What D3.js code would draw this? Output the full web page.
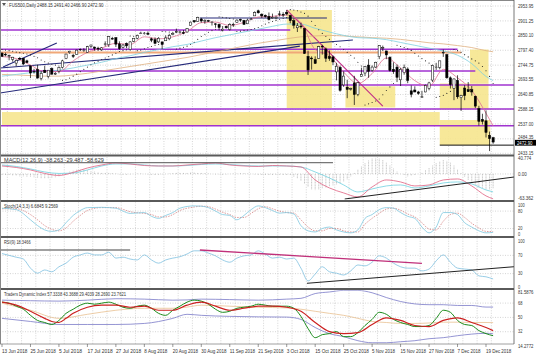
<!DOCTYPE html>
<html><head><meta charset="utf-8">
<script src="https://cdn.jsdelivr.net/npm/d3@7"></script>
<style>
body{margin:0;background:#fff;}
svg text{font-family:"Liberation Sans","DejaVu Sans",Arial,sans-serif;font-size:5px;fill:#333;}
</style></head>
<body><svg id="c" width="536" height="358"></svg>
<script>
// ---------- DATA ----------
const dateLabels = ["13 Jun 2018","25 Jun 2018","5 Jul 2018","17 Jul 2018","27 Jul 2018","8 Aug 2018","20 Aug 2018","30 Aug 2018","11 Sep 2018","21 Sep 2018","3 Oct 2018","15 Oct 2018","25 Oct 2018","5 Nov 2018","15 Nov 2018","27 Nov 2018","7 Dec 2018","19 Dec 2018"];
const dateLabelBars = [0,8,16,24,32,40,48,56,64,72,80,88,96,104,112,120,128,136];

const open = [2787,2783,2777,2765,2752,2769,2769,2760,2742,2722, 2729,2698,2727,2705,2733,2713,2724,2737,2768,2789, 2779,2783,2801,2798,2790,2811,2809,2805,2799,2820, 2817,2839,2842,2820,2808,2822,2800,2829,2840,2856, 2857,2858,2838,2835,2827,2827,2831,2838,2853,2861, 2861,2860,2862,2885,2902,2900,2908,2899,2902,2897, 2891,2889,2868,2882,2871,2888,2896,2906,2903,2891, 2906,2919,2937,2925,2921,2917,2911,2910,2926,2924, 2932,2920,2902,2877,2883,2874,2776,2770,2764,2768, 2812,2802,2775,2774,2721,2737,2675,2667,2660,2682, 2641,2705,2717,2745,2726,2738,2775,2807,2795,2773, 2730,2738,2693,2718,2731,2654,2657,2650,2633,2650, 2663,2692,2737,2737,2790,2782,2700,2663,2691,2630, 2664,2658,2658,2635,2591,2553,2548,2497,2488.15];
const high = [2791,2789,2782,2774,2765,2774,2770,2764,2743,2732, 2746,2724,2743,2727,2737,2720,2738,2764,2785,2796, 2785,2800,2804,2805,2813,2817,2810,2810,2809,2829, 2848,2845,2843,2829,2819,2825,2830,2841,2853,2863, 2862,2864,2842,2843,2844,2828,2850,2856,2859,2874, 2867,2869,2876,2899,2904,2916,2912,2907,2905,2900, 2893,2892,2883,2884,2893,2895,2907,2909,2905,2909, 2912,2935,2941,2928,2924,2931,2927,2920,2937,2932, 2940,2923,2910,2894,2895,2875,2796,2776,2776,2813, 2817,2807,2797,2779,2753,2743,2723,2693,2665,2707, 2685,2736,2741,2766,2744,2757,2815,2814,2796,2776, 2755,2747,2735,2747,2737,2673,2670,2654,2654,2676, 2686,2744,2753,2760,2800,2785,2705,2698,2709,2640, 2674,2685,2671,2637,2601,2573,2585,2510,2491.4];
const low = [2774,2776,2762,2757,2741,2763,2745,2752,2699,2715, 2698,2691,2718,2698,2711,2710,2716,2733,2766,2785, 2770,2782,2795,2792,2789,2806,2796,2795,2795,2811, 2809,2835,2809,2799,2804,2805,2796,2826,2836,2855, 2853,2852,2826,2819,2823,2802,2831,2833,2851,2858, 2856,2854,2860,2884,2894,2899,2895,2891,2898,2885, 2877,2868,2864,2874,2867,2880,2895,2898,2887,2890, 2904,2919,2927,2912,2913,2903,2910,2907,2917,2915, 2921,2893,2874,2862,2874,2785,2710,2729,2749,2767, 2782,2756,2760,2745,2691,2651,2668,2628,2655,2604, 2635,2705,2706,2700,2722,2735,2766,2795,2766,2722, 2714,2685,2671,2711,2681,2631,2649,2640,2631,2649, 2656,2685,2728,2730,2774,2697,2662,2621,2626,2583, 2621,2650,2637,2593,2531,2535,2489,2441,2466.9];
const close = [2776,2782,2779,2773,2762,2767,2749,2754,2717,2723, 2699,2716,2718,2727,2713,2716,2737,2760,2784,2794, 2776,2798,2801,2798,2810,2816,2804,2802,2806,2820, 2846,2837,2819,2803,2816,2813,2827,2840,2850,2858, 2858,2854,2833,2822,2840,2818,2841,2850,2857,2863, 2862,2857,2875,2897,2898,2914,2901,2902,2901,2897, 2889,2878,2872,2877,2888,2889,2904,2905,2889,2904, 2908,2931,2930,2919,2916,2906,2914,2914,2925,2923, 2926,2902,2886,2884,2880,2786,2728,2767,2751,2810, 2809,2769,2768,2756,2741,2656,2706,2659,2662,2641, 2683,2712,2740,2723,2738,2755,2814,2807,2781,2726, 2722,2702,2730,2736,2691,2642,2650,2645,2633,2673, 2682,2744,2738,2760,2790,2700,2676,2696,2633,2638, 2637,2651,2650,2600,2546,2546,2507,2485,2472.9];
// parabolic SAR, one value per bar
const sar = [2800,2798,2796,2794,2791,2789,2787,2784,2781,2776, 2771,2763,2757,2752,2748,2745,2742,2691,2693,2699, 2706,2713,2722,2730,2738,2746,2753,2759,2765,2770, 2775,2781,2787,2793,2796,2799,2848,2847,2796,2798, 2803,2807,2811,2815,2818,2864,2863,2862,2861,2802, 2805,2808,2812,2818,2826,2836,2846,2854,2861,2867, 2872,2916,2914,2912,2910,2908,2864,2865,2867,2869, 2871,2874,2878,2884,2890,2895,2899,2903,2907,2910, 2913,2941,2940,2937,2933,2928,2918,2900,2885,2870, 2857,2846,2836,2827,2818,2810,2800,2790,2780,2770, 2755,2742,2604,2608,2613,2618,2625,2640,2655,2668, 2680,2815,2811,2807,2803,2797,2787,2777,2768,2760, 2752,2745,2631,2634,2638,2645,2652,2800,2796,2790, 2782,2774,2767,2760,2752,2740,2725,2705,2680];

// moving averages on price, sampled every 4 bars (+ last bar)
const maFast = [2775,2768,2745,2722,2722,2760,2790,2805,2822,2818,2845,2838,2845,2864,2895,2897,2885,2896,2915,2917,2922,2895,2800,2778,2720,2680,2715,2770,2735,2690,2670,2730,2700,2655,2575,2530];
const maMid  = [2706,2712,2718,2722,2727,2735,2745,2755,2768,2778,2790,2800,2810,2818,2830,2842,2852,2862,2872,2882,2890,2890,2875,2862,2850,2842,2840,2835,2825,2815,2805,2795,2780,2750,2705,2690];
const maSlow = [2712,2710,2708,2706,2706,2710,2716,2724,2732,2740,2748,2756,2764,2772,2782,2792,2802,2812,2822,2830,2838,2845,2848,2850,2848,2845,2842,2840,2836,2830,2824,2820,2814,2807,2796,2792];

// MACD panel (every 4 bars + last)
const macdMain   = [20.8,16.9,10.4,1.3,-3.9,3.9,15.6,23.4,28.6,26,22,20.8,20.8,23.4,26,28.6,23.4,20.8,19.5,22,20.8,18.2,-15.6,-36.4,-49.4,-59.7,-33.8,-15.6,-20.8,-31.2,-28.6,-15.6,-13,-31.2,-57.1,-64.9];
const macdSignal = [23.4,19.5,13,5.2,1.3,2.6,10.4,20.8,26,26,23.4,20.8,20.8,22,24.7,26,24.7,22,20.8,20.8,20.8,18.2,5.2,-10.4,-28.6,-46.8,-39,-31.2,-28.6,-36.4,-31.2,-23.4,-20.8,-26,-41.6,-46.8];
// MACD histogram, one value per bar
const macdHist = [-3,-4,-4,-5,-5,-6,-6,-7,-8,-9, -10,-11,-12,-11,-10,-9,-6,-2,3,6, 9,11,12,11,10,8,6,5,4,4, 3,2,1,-1,-2,-2,-1,0,1,1, 0,-1,-2,-3,-2,-1,0,1,2,3, 3,4,4,5,5,4,3,2,1,0, -1,-1,-2,-1,0,1,1,2,2,1, 0,-1,-2,-3,-3,-4,-3,-2,-2,-3, -3,-4,-8,-12,-18,-26,-34,-40,-42,-40, -38,-35,-33,-30,-27,-24,-20,-14,-6,4, 12,20,28,35,40,42,40,36,30,22, 14,6,0,-4,-6,-5,-3,0,4,10, 16,22,28,33,36,34,30,22,12,2, -8,-16,-24,-30,-35,-38,-40,-40,-38];

// Stochastic
const stochIdx = [0,4,8,10,12,14,16,18,20,22,24,28,32,34,36,40,42,44,46,48,50,54,56,58,60,62,64,66,68,70,72,74,76,78,80,82,84,86,88,90,92,94,96,98,100,102,104,106,108,110,112,114,116,118,120,122,124,126,128,130,132,134,136,138];
const stochK = [90,85,50,30,15,10,15,40,65,82,92,93,90,80,72,75,62,55,65,75,90,98,97,92,80,68,65,50,65,85,98,92,82,73,75,70,30,12,8,20,25,15,8,5,15,55,68,85,92,90,75,62,55,25,5,25,75,75,68,40,25,12,5,6.7];
const stochD = [88,88,68,50,30,17,12,22,45,65,82,92,92,86,78,72,68,60,60,68,82,94,97,95,87,76,68,58,58,72,88,95,88,80,75,73,50,25,12,12,20,20,12,8,8,35,55,72,87,90,83,70,60,40,18,15,45,68,73,58,38,22,10,9.3];

// RSI(9)
const rsiIdx = [0,4,6,8,10,12,14,16,18,20,22,24,26,28,30,32,34,36,38,40,42,44,46,48,50,52,54,56,58,60,62,64,66,68,70,72,74,76,78,80,82,84,86,88,90,92,94,96,98,100,102,104,106,108,110,112,114,116,118,120,122,124,126,128,130,132,134,136,138];
const rsiVal = [74,66,62,42,31,38,34,45,53,66,71,75,71,71,77,64,66,62,60,71,60,53,60,64,67,73,80,80,75,69,60,55,64,69,71,80,73,64,66,62,64,42,14,29,45,34,31,27,36,49,47,55,69,64,53,45,42,42,36,40,58,71,55,42,40,38,25,23,18.3];

// Traders Dynamic Index
const tdiBandIdx = [0,8,16,24,32,40,48,52,56,64,72,80,84,88,92,96,100,104,108,112,116,120,124,128,132,136,138];
const tdiUpper = [71.7,71,70.5,71.7,73.5,73,71.7,72,73,72.4,71.7,73,74,80,82,84,84,81,75,70,67,66,66,65,65,63,63];
const tdiMiddle= [67.9,59,48.8,53.9,59,61.5,61.5,63,65.4,64.1,62.8,61.9,60.3,57.7,55.1,52.6,48.8,44.9,43.6,42.4,42.4,43,44,44,43.6,43.6,43.4];
const tdiLower = [48.8,44.9,41.1,41.1,41.1,42.4,48.8,53.9,52.6,51.3,50.7,50.4,47.5,37.3,29.6,25.8,20.7,18.1,18.1,19.4,20.7,23.2,24.5,27,29,30,29.4];
const tdiGreen = [69.2,67.9,64.1,60.3,52.6,46.2,43.6,41.1,46.2,55.1,60.3,65.4,67.9,66.6,67.9,69.2,66.6,62.8,61.5,64.1,65.4,61.5,55.1,52.6,59,64.1,69.2,71.7,70.5,66.6,60.3,56.4,57.7,61.5,62.8,64.1,66.6,65.4,64.1,64.1,64.1,61.5,51.3,36,24.5,28.3,29.6,32.2,25.8,25.8,30.9,39.8,47.5,56.4,53.9,47.5,43.6,41.1,38.5,38.5,39.8,48.8,59,56.4,46.2,41.1,39.8,33.4,29.6,27];
const tdiRedIdx = [0,4,8,12,14,16,18,20,24,28,32,36,40,44,48,52,56,60,64,68,72,76,80,84,88,92,96,100,104,108,112,116,120,124,128,132,136,138];
const tdiRed = [69.2,65.4,57.7,48.8,44.9,43.6,48.8,55.1,62.8,65.4,65.4,62.8,64.1,59,59,65.4,69.2,64.1,59,61.5,64.1,64.1,62.8,57.7,43.6,32.2,29.6,30.9,41.1,49.4,46.2,39.8,38.5,46.2,49.4,43.6,37.3,33.4];

// chart objects (price levels, bar ranges)
const levelPrices = [2869,2800.8,2724.1,2674.6,2589.7,2530.7];
const levelFrom   = [0,0,0,0,0,0];
const levelTo     = [81,128,133,145,145,145];
const orangeLevel = [2789.5,0,129];
const boxes = [ // [barFrom, barTo, priceTop, priceBottom]
  [80,92.7,2939.8,2593.3],
  [0,123,2579,2533],
  [123,137.2,2550.8,2462],
  [96.5,110.5,2670,2595],
  [123,136.7,2680,2589],
  [131.5,136.7,2800,2680]
];
// trend lines [bar1, price1, bar2, price2]
const navyLines = [[-0.6,2734.7,98.6,2833.7],[-0.6,2646.3,83.7,2811.8],[0.3,2738.3,15.4,2823.1],[55.6,2911.5,91.3,2911.5]];
const magentaLine = [80,2940,107,2600];
const mainTicks = [2953.95,2901.25,2850.10,2797.40,2744.75,2693.55,2640.85,2588.15,2537.00,2484.35,2433.15];
const lastPrice = 2472.90;

// ---------- RENDER ----------
const svg = d3.select('#c');
const PX = 514;
const CW = 2.3;
const x = d3.scaleLinear().domain([0,136]).range([2,486]);
const yMain = d3.scaleLinear().domain([2433.15,2953.95]).range([153.3,6]);
const yMacd = d3.scaleLinear().domain([-63.362,40.774]).range([198.3,158.3]);
const ySt = d3.scaleLinear().domain([0,100]).range([234.3,205.3]);
const yRsi = d3.scaleLinear().domain([0,100]).range([287.3,241.7]);
const yTdi = d3.scaleLinear().domain([14.2772,81.5876]).range([345.8,292.3]);

function txt(xp, yp, s, cw){
  const t = svg.append('text').attr('x',xp).attr('y',yp).text(s);
  t.attr('textLength', s.length*(cw||CW)).attr('lengthAdjust','spacingAndGlyphs');
  return t;
}

const panels = [
  {id:'pm', y0:1, y1:154.5},
  {id:'pmacd', y0:156.8, y1:199.8},
  {id:'pst', y0:202.2, y1:235.8},
  {id:'prsi', y0:238.3, y1:287.8},
  {id:'ptdi', y0:290.3, y1:344}
];
const defs = svg.append('defs');
panels.forEach(p=>{
  defs.append('clipPath').attr('id',p.id).append('rect')
    .attr('x',0).attr('y',p.y0).attr('width',PX).attr('height',p.y1-p.y0);
});
const G = {};
panels.forEach(p=>{ G[p.id] = svg.append('g').attr('clip-path',`url(#${p.id})`); });

// grid
const gridBars = d3.range(1.5,140,4);
panels.forEach(p=>{
  G[p.id].selectAll('line.vg').data(gridBars).join('line')
    .attr('x1',d=>x(d)).attr('x2',d=>x(d)).attr('y1',p.y0).attr('y2',p.y1)
    .attr('stroke','#b8b8b8').attr('stroke-width',0.6).attr('stroke-dasharray','1,1.5');
});
function hgrid(g, ys){
  g.selectAll(null).data(ys).join('line').attr('x1',0).attr('x2',PX)
   .attr('y1',d=>d).attr('y2',d=>d).attr('stroke','#b8b8b8').attr('stroke-width',0.6).attr('stroke-dasharray','1,1.5');
}
hgrid(G.pm, mainTicks.map(yMain));
hgrid(G.pmacd,[yMacd(0)]);
hgrid(G.pst,[ySt(80),ySt(20)]);
hgrid(G.prsi,[yRsi(70),yRsi(30)]);
hgrid(G.ptdi,[yTdi(68),yTdi(50),yTdi(32)]);

// yellow boxes
G.pm.selectAll('rect.box').data(boxes).join('rect')
  .attr('x',d=>x(d[0])).attr('width',d=>x(d[1])-x(d[0]))
  .attr('y',d=>yMain(d[2])).attr('height',d=>yMain(d[3])-yMain(d[2]))
  .attr('fill','#f6e68e').attr('opacity',0.9);

// horizontal levels
G.pm.selectAll('line.lvl').data(levelPrices).join('line')
  .attr('x1',(d,i)=>x(levelFrom[i])-3).attr('x2',(d,i)=>Math.min(PX,x(levelTo[i])))
  .attr('y1',d=>yMain(d)).attr('y2',d=>yMain(d))
  .attr('stroke','#a033d0').attr('stroke-width',1.6);
G.pm.append('line').attr('x1',0).attr('x2',x(orangeLevel[2]))
  .attr('y1',yMain(orangeLevel[0])).attr('y2',yMain(orangeLevel[0]))
  .attr('stroke','#f0a878').attr('stroke-width',1.8);
G.pm.append('line').attr('x1',x(123)).attr('x2',PX)
  .attr('y1',yMain(2462)).attr('y2',yMain(2462)).attr('stroke','#111').attr('stroke-width',1);

// trend lines
G.pm.selectAll('line.nv').data(navyLines).join('line')
  .attr('x1',d=>x(d[0])).attr('y1',d=>yMain(d[1])).attr('x2',d=>x(d[2])).attr('y2',d=>yMain(d[3]))
  .attr('stroke','#262a7a').attr('stroke-width',1.2);
G.pm.append('line').attr('x1',x(magentaLine[0])).attr('y1',yMain(magentaLine[1]))
  .attr('x2',x(magentaLine[2])).attr('y2',yMain(magentaLine[3]))
  .attr('stroke','#c02a86').attr('stroke-width',1.1);

// MAs
const idx4 = d3.range(0,137,4).concat([138]);
function pline(g, idx, vals, ys, color, w, dash){
  const ln = d3.line().x((d,i)=>x(idx[i])).y(d=>ys(d)).curve(d3.curveMonotoneX);
  const p = g.append('path').attr('d',ln(vals)).attr('fill','none').attr('stroke',color).attr('stroke-width',w);
  if(dash) p.attr('stroke-dasharray',dash);
  return p;
}
pline(G.pm, idx4, maSlow, yMain, '#e0b080', 0.8);
pline(G.pm, idx4, maMid, yMain, '#7fd0e0', 0.8);
pline(G.pm, idx4, maFast, yMain, '#e07090', 0.8);

// SAR dots
const bars = d3.range(open.length);
G.pm.selectAll('circle.sar').data(bars).join('circle')
  .attr('cx',i=>x(i)).attr('cy',i=>yMain(sar[i])).attr('r',0.55).attr('fill','#222');

// candles
const cg = G.pm.append('g');
cg.selectAll('line.w').data(bars).join('line')
  .attr('x1',i=>x(i)).attr('x2',i=>x(i)).attr('y1',i=>yMain(high[i])).attr('y2',i=>yMain(low[i]))
  .attr('stroke','#000').attr('stroke-width',0.7);
cg.selectAll('rect.b').data(bars).join('rect')
  .attr('x',i=>x(i)-1.1).attr('width',2.2)
  .attr('y',i=>yMain(Math.max(open[i],close[i])))
  .attr('height',i=>Math.max(0.6,Math.abs(yMain(open[i])-yMain(close[i]))))
  .attr('fill',i=>close[i]>=open[i]?'#fff':'#000').attr('stroke','#000').attr('stroke-width',0.5);

// MACD
G.pmacd.selectAll('line.h').data(bars).join('line')
  .attr('x1',i=>x(i)).attr('x2',i=>x(i)).attr('y1',yMacd(0)).attr('y2',i=>yMacd(macdHist[i]))
  .attr('stroke','#9a9a9a').attr('stroke-width',0.6).attr('stroke-dasharray','1,0.6');
pline(G.pmacd, idx4, macdSignal, yMacd, '#6fd0e0', 0.8);
pline(G.pmacd, idx4, macdMain, yMacd, '#e06080', 0.8);
G.pmacd.append('line').attr('x1',x(-1)).attr('x2',x(93)).attr('y1',yMacd(29.3)).attr('y2',yMacd(29.3)).attr('stroke','#555').attr('stroke-width',1);
G.pmacd.append('line').attr('x1',x(96.3)).attr('x2',x(144)).attr('y1',yMacd(-65.2)).attr('y2',yMacd(-7.8)).attr('stroke','#222').attr('stroke-width',1);

// Stoch
pline(G.pst, stochIdx, stochD, ySt, '#d07070', 0.7, '1.5,1.2');
pline(G.pst, stochIdx, stochK, ySt, '#7fc8e0', 0.8);

// RSI
pline(G.prsi, rsiIdx, rsiVal, yRsi, '#7fc0e0', 0.8);
G.prsi.append('line').attr('x1',x(-1)).attr('x2',x(36)).attr('y1',yRsi(81.8)).attr('y2',yRsi(81.8)).attr('stroke','#444').attr('stroke-width',1.2);
G.prsi.append('line').attr('x1',x(55.6)).attr('x2',x(118)).attr('y1',yRsi(81.8)).attr('y2',yRsi(52.6)).attr('stroke','#c0307a').attr('stroke-width',1.3);
G.prsi.append('line').attr('x1',x(85.7)).attr('x2',x(144)).attr('y1',yRsi(8.8)).attr('y2',yRsi(45.2)).attr('stroke','#222').attr('stroke-width',1);

// TDI
const idx2 = d3.range(0,139,2);
pline(G.ptdi, tdiBandIdx, tdiUpper, yTdi, '#7a7ac8', 0.8);
pline(G.ptdi, tdiBandIdx, tdiLower, yTdi, '#7a7ac8', 0.8);
pline(G.ptdi, tdiBandIdx, tdiMiddle, yTdi, '#e8c090', 0.8);
pline(G.ptdi, idx2, tdiGreen, yTdi, '#1a8a1a', 1);
pline(G.ptdi, tdiRedIdx, tdiRed, yTdi, '#cc2020', 1.2);

// separators & frame
[155.5,201,237,289].forEach(y=>{
  svg.append('line').attr('x1',0).attr('x2',PX).attr('y1',y).attr('y2',y).attr('stroke','#5a5a5a').attr('stroke-width',2);
});
svg.append('line').attr('x1',0).attr('x2',PX).attr('y1',0.5).attr('y2',0.5).attr('stroke','#888').attr('stroke-width',1);
svg.append('line').attr('x1',0).attr('x2',PX).attr('y1',344).attr('y2',344).attr('stroke','#888').attr('stroke-width',0.8);
svg.append('line').attr('x1',0.5).attr('x2',0.5).attr('y1',0).attr('y2',344).attr('stroke','#888').attr('stroke-width',1);
svg.append('line').attr('x1',PX).attr('x2',PX).attr('y1',0).attr('y2',344).attr('stroke','#555').attr('stroke-width',0.8);

// right axis labels
function rlabels(vals, ys, fmt, dy){
  vals.forEach(v=>{
    const s = fmt ? fmt(v) : String(v);
    txt(PX+4, ys(v)+1.7+(dy||0), s, 2.2);
  });
}
rlabels(mainTicks.filter(v=>v!==2484.35), yMain, d=>d.toFixed(2));
rlabels([2484.35], yMain, d=>d.toFixed(2), -1.6);
svg.append('rect').attr('x',PX+1).attr('y',yMain(lastPrice)-2.2).attr('width',21).attr('height',5.8).attr('fill','#000');
txt(PX+3, yMain(lastPrice)+2.6, lastPrice.toFixed(2), 2.2).style('fill','#fff');
rlabels([40.774],yMacd,d=>'40.774');
rlabels([0],yMacd,d=>'0.00');
rlabels([-63.362],yMacd,d=>'-63.362');
rlabels([100,80,20,0],ySt);
rlabels([100,70,30,0],yRsi);
rlabels([81.5876,68,50,32,14.2772],yTdi);

// titles
svg.append('path').attr('d','M2,3 L6,3 L4,6 Z').attr('fill','#555');
txt(9, 6.5, 'FUS500,Daily  2488.15 2491.40 2466.90 2472.90', 2.1);
txt(4, 162, 'MACD(12,26,9) -38.263 -29.487 -58.629', 2.7);
txt(4, 207.5, 'Stoch(14,3,3) 6.6845 9.2569', 2.0);
txt(4, 244, 'RSI(9) 18.3466', 1.9);
txt(4, 296, 'Traders Dynamic Index 57.3338 43.3688 29.4039 28.2690 23.7621', 2.0);

// x axis
svg.selectAll('line.xt').data(dateLabelBars).join('line')
  .attr('x1',d=>x(d)).attr('x2',d=>x(d)).attr('y1',344).attr('y2',347).attr('stroke','#555').attr('stroke-width',0.6);
dateLabels.forEach((d,i)=>{ txt(x(dateLabelBars[i]), 353, d, 2.3); });
</script>
</body></html>
